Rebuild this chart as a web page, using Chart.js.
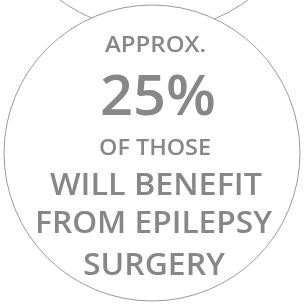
<!DOCTYPE html>
<html>
<head>
<meta charset="utf-8">
<script src="https://cdn.jsdelivr.net/npm/chart.js@4"></script>
<style>
  html, body { margin: 0; padding: 0; background: #fff; }
  #wrap { width: 305px; height: 306px; }
</style>
</head>
<body>
<div id="wrap"><canvas id="myChart" width="305" height="306"></canvas></div>
<script>
// circle centres and radii (radius in px, axes map 1:1 to px)
var circleX = [152, 154];
var circleY = [153, -127];
var circleR = [148, 158];
// text in the main circle
var lines = ["APPROX.", "25%", "OF THOSE", "WILL BENEFIT", "FROM EPILEPSY", "SURGERY"];

var grey = "#878787";

var textPlugin = {
  id: "circleText",
  afterDatasetsDraw: function(chart) {
    var ctx = chart.ctx;
    var sizes = [22, 56, 22, 31, 31, 31];
    var base = [52, 115, 155, 195, 233, 275];
    var centre = [155.5, 158, 155, 156, 153.5, 154];
    var widths = [101, 116, 112, 212, 237, 142];
    ctx.save();
    ctx.fillStyle = grey;
    ctx.textAlign = "center";
    ctx.textBaseline = "alphabetic";
    for (var i = 0; i < lines.length; i++) {
      ctx.font = "600 " + sizes[i] + "px 'Open Sans'";
      var w = ctx.measureText(lines[i]).width;
      var sx = widths[i] / w;
      ctx.save();
      ctx.translate(centre[i], base[i]);
      ctx.scale(sx, 1);
      ctx.fillText(lines[i], 0, 0);
      ctx.restore();
    }
    ctx.restore();
  }
};

var ctx = document.getElementById("myChart");
var myChart = new Chart(ctx, {
  type: "bubble",
  data: {
    datasets: [
      {
        // main circle (dataset 0 is drawn last, so on top)
        data: [{ x: circleX[0], y: circleY[0], r: circleR[0] }],
        backgroundColor: "#ffffff",
        borderColor: "#9a9a9a",
        borderWidth: 1,
        clip: false
      },
      {
        // top circle, sits behind
        data: [{ x: circleX[1], y: circleY[1], r: circleR[1] }],
        backgroundColor: "#ffffff",
        borderColor: "#9a9a9a",
        borderWidth: 1,
        clip: false
      }
    ]
  },
  options: {
    responsive: false,
    animation: false,
    events: [],
    layout: { padding: 0, autoPadding: false },
    plugins: { legend: { display: false }, tooltip: { enabled: false } },
    scales: {
      x: { type: "linear", min: 0, max: 305, display: false },
      y: { type: "linear", min: 0, max: 306, reverse: true, display: false }
    }
  },
  plugins: [textPlugin]
});
</script>
</body>
</html>
